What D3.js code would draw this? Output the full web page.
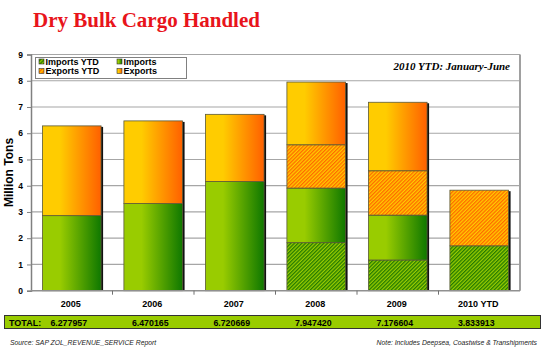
<!DOCTYPE html>
<html><head><meta charset="utf-8">
<script src="https://cdn.jsdelivr.net/npm/d3@7"></script>
<style>body{margin:0;background:#fff}svg{display:block}</style>
</head><body><svg id="c" width="545" height="352"></svg>
<script>
const categories = ["2005","2006","2007","2008","2009","2010 YTD"];
const importsYTD = [0, 0, 0, 1.83, 1.17, 1.71];
const imports    = [2.86, 3.32, 4.16, 2.08, 1.71, 0];
const exportsYTD = [0, 0, 0, 1.65, 1.69, 2.12];
const exportsVal = [3.42, 3.15, 2.56, 2.39, 2.61, 0];
const totals = ["6.277957","6.470165","6.720669","7.947420","7.176604","3.833913"];
const yTicks = [0,1,2,3,4,5,6,7,8,9];
const seriesNames = ["Imports YTD","Imports","Exports YTD","Exports"];

const svg = d3.select("#c");
const defs = svg.append("defs");
function grad(id, c1, c2){
  const g = defs.append("linearGradient").attr("id",id).attr("x1","0").attr("x2","1").attr("y1","0").attr("y2","0");
  g.append("stop").attr("offset","0").attr("stop-color",c1);
  g.append("stop").attr("offset","0.3").attr("stop-color",c1);
  g.append("stop").attr("offset","1").attr("stop-color",c2);
}
grad("gGreen","#99cc00","#0f7800");
grad("gOrange","#ffcc00","#ff6000");
function hatch(id, c1, c2){
  const p = defs.append("pattern").attr("id",id).attr("patternUnits","userSpaceOnUse")
    .attr("width",2.6).attr("height",2.6).attr("patternTransform","rotate(45)");
  p.append("rect").attr("width",2.6).attr("height",2.6).attr("fill",c1);
  p.append("rect").attr("width",1.3).attr("height",2.6).attr("fill",c2);
}
hatch("hGreen","#99cc00","#247a00");
hatch("hOrange","#ffcc00","#ff6a00");
const fills = ["url(#hGreen)","url(#gGreen)","url(#hOrange)","url(#gOrange)"];

// title
svg.append("text").attr("x",33).attr("y",27).text("Dry Bulk Cargo Handled")
  .attr("font-family","Liberation Serif, Times New Roman, serif").attr("font-weight","bold")
  .attr("font-size",21).attr("fill","#e8141b");

const L = 31, R = 520, T = 54.5, B = 290.7;
const x = d3.scaleBand().domain(categories).range([L,R]).paddingInner(0.28).paddingOuter(0.14);
const y = d3.scaleLinear().domain([0,9]).range([B,T]);

// gridlines
svg.append("g").selectAll("line").data(yTicks.slice(1)).join("line")
  .attr("x1",L).attr("x2",R).attr("y1",d=>y(d)).attr("y2",d=>y(d))
  .attr("stroke","#a6a6a6").attr("stroke-width",1.2);
// plot border right
svg.append("line").attr("x1",R).attr("x2",R).attr("y1",T).attr("y2",B).attr("stroke","#a0a0a0").attr("stroke-width",2);

// stack
const rows = categories.map((c,i)=>({cat:c, v:[importsYTD[i],imports[i],exportsYTD[i],exportsVal[i]]}));
const bars = svg.append("g");
rows.forEach(r=>{
  const tot = d3.sum(r.v);
  const bx = x(r.cat), bw = x.bandwidth();
  bars.append("rect").attr("x",bx+2).attr("y",y(tot)+1).attr("width",bw).attr("height",B-y(tot)-1).attr("fill","#111");
  let cum = 0;
  r.v.forEach((v,k)=>{
    if(v<=0) return;
    bars.append("rect").attr("x",bx).attr("y",y(cum+v)).attr("width",bw).attr("height",y(cum)-y(cum+v))
      .attr("fill",fills[k]).attr("stroke","#5a5a3a").attr("stroke-width",0.8);
    cum += v;
  });
});

// axes
const yAxis = d3.axisLeft(y).tickValues(yTicks).tickSize(4).tickFormat(d3.format("d"));
const ya = svg.append("g").attr("transform",`translate(${L},0)`).call(yAxis);
ya.select(".domain").attr("stroke","#808080").attr("stroke-width",1.5);
ya.selectAll(".tick line").attr("stroke","#808080");
ya.selectAll("text").attr("font-family","Liberation Sans, Arial, sans-serif").attr("font-weight","bold").attr("font-size",8.5).attr("fill","#000").attr("x",-8);
svg.append("line").attr("x1",L).attr("x2",R).attr("y1",B).attr("y2",B).attr("stroke","#909090").attr("stroke-width",1.5);
// x ticks at boundaries
const step = x.step();
svg.append("g").selectAll("line").data(categories.slice(1)).join("line")
  .attr("x1",d=>x(d)-(step-x.bandwidth())/2).attr("x2",d=>x(d)-(step-x.bandwidth())/2)
  .attr("y1",B).attr("y2",B+4).attr("stroke","#707070");
svg.append("g").selectAll("text").data(categories).join("text")
  .attr("x",d=>x(d)+x.bandwidth()/2-1).attr("y",307).attr("text-anchor","middle")
  .attr("font-family","Liberation Sans, Arial, sans-serif").attr("font-weight","bold").attr("font-size",9).text(d=>d);

svg.append("text").attr("transform","translate(13,172.5) rotate(-90)").attr("text-anchor","middle")
  .attr("font-family","Liberation Sans, Arial, sans-serif").attr("font-weight","bold").attr("font-size",12).text("Million Tons");

// legend
const lg = svg.append("g");
lg.append("rect").attr("x",35.5).attr("y",57.5).attr("width",151).attr("height",21).attr("fill","#fff").attr("stroke","#808080").attr("stroke-width",1);
const legPos = [[39,63],[117,63],[39,72.5],[117,72.5]];
seriesNames.forEach((n,k)=>{
  const [lx,ly] = legPos[k];
  lg.append("rect").attr("x",lx).attr("y",ly-4).attr("width",5).attr("height",5).attr("fill",fills[k]).attr("stroke","#333").attr("stroke-width",0.6);
  lg.append("text").attr("x",lx+6.5).attr("y",ly+1.8).text(n)
    .attr("font-family","Liberation Sans, Arial, sans-serif").attr("font-weight","bold").attr("font-size",9);
});

svg.append("text").attr("x",510).attr("y",70).attr("text-anchor","end").text("2010 YTD: January-June")
  .attr("font-family","Liberation Serif, Times New Roman, serif").attr("font-weight","bold").attr("font-style","italic").attr("font-size",11);

// total row
svg.append("rect").attr("x",4.5).attr("y",315.5).attr("width",536).attr("height",13).attr("fill","#99cc00").attr("stroke","#333").attr("stroke-width",1);
svg.append("text").attr("x",9).attr("y",325.5).text("TOTAL:")
  .attr("font-family","Liberation Sans, Arial, sans-serif").attr("font-weight","bold").attr("font-size",9);
svg.append("g").selectAll("text").data(categories).join("text")
  .attr("x",d=>x(d)+x.bandwidth()/2-3).attr("y",325.5).attr("text-anchor","middle")
  .attr("font-family","Liberation Sans, Arial, sans-serif").attr("font-weight","bold").attr("font-size",8.8)
  .text((d,i)=>totals[i]);

svg.append("text").attr("x",10).attr("y",345).text("Source: SAP ZOL_REVENUE_SERVICE Report")
  .attr("font-family","Liberation Sans, Arial, sans-serif").attr("font-style","italic").attr("font-size",6.8).attr("fill","#222");
svg.append("text").attr("x",537).attr("y",345).attr("text-anchor","end").text("Note: Includes Deepsea, Coastwise & Transhipments")
  .attr("font-family","Liberation Sans, Arial, sans-serif").attr("font-style","italic").attr("font-size",6.8).attr("fill","#222");
</script></body></html>
